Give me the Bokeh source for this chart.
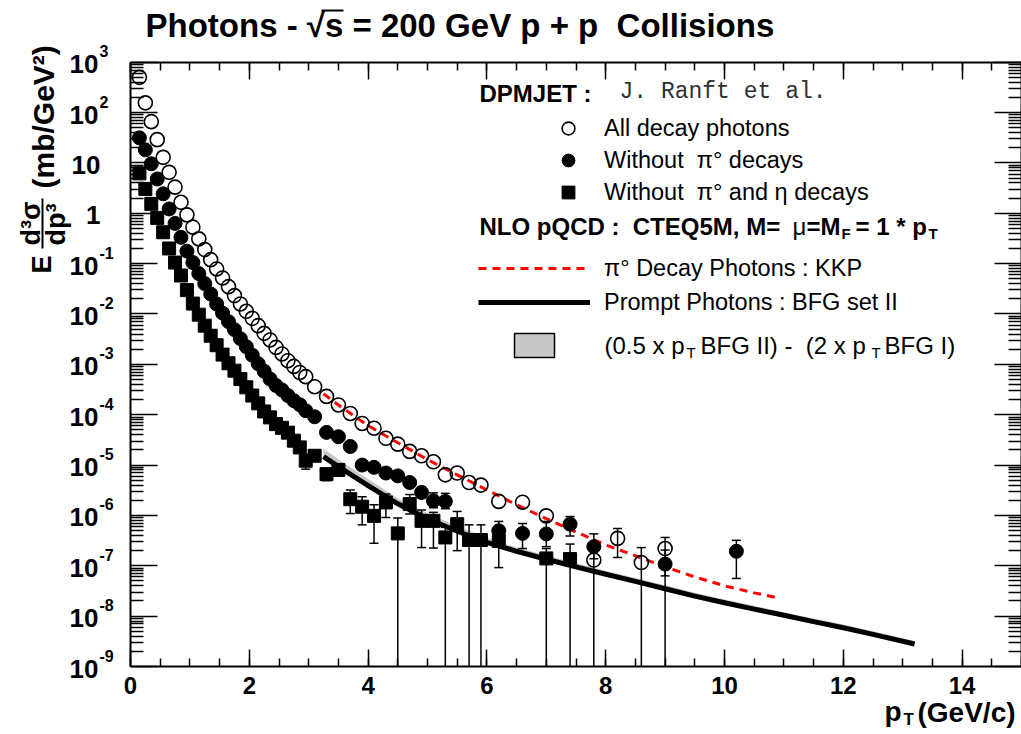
import math
from bokeh.plotting import figure
from bokeh.models import (LinearAxis, LogAxis, FixedTicker, Label, Legend,
                          LegendItem, Arrow, CustomJSTickFormatter, BoxAnnotation)
from bokeh.embed import file_html
from bokeh.resources import INLINE

FONT = "Liberation Sans"
NB = "\u00a0"

# ---------------- data ----------------
pt_all = [0.15, 0.25, 0.35, 0.45, 0.55, 0.65, 0.75, 0.85, 0.95, 1.05, 1.15, 1.25, 1.35, 1.45,
          1.55, 1.65, 1.75, 1.85, 1.95, 2.05, 2.15, 2.25, 2.35, 2.45, 2.55, 2.65, 2.75, 2.85,
          2.95, 3.1, 3.3, 3.5, 3.7, 3.9, 4.1, 4.3, 4.5, 4.7, 4.9, 5.1, 5.3, 5.5, 5.7, 5.9,
          6.2, 6.6, 7.0, 7.8, 8.2, 8.6, 9.0]
all_decay = [500, 156, 66, 29, 12.9, 6.5, 3.3, 1.65, 0.93, 0.53, 0.31, 0.19, 0.12, 0.0785,
             0.052, 0.0349, 0.0232, 0.0158, 0.0113, 0.0082, 0.00587, 0.00413, 0.00305, 0.00217,
             0.00161, 0.00118, 9.1e-4, 6.9e-4, 5.7e-4, 3.6e-4, 2.31e-4, 1.56e-4, 1.06e-4,
             6.7e-5, 5.4e-5, 3.4e-5, 2.6e-5, 1.87e-5, 1.53e-5, 1.16e-5, 6.4e-6, 6.95e-6,
             4.5e-6, 4.0e-6, 1.9e-6, 1.83e-6, 9.8e-7, 1.3e-7, 3.5e-7, 1.16e-7, 2.2e-7]

pt_nopi0 = [0.15, 0.25, 0.35, 0.45, 0.55, 0.65, 0.75, 0.85, 0.95, 1.05, 1.15, 1.25, 1.35, 1.45,
            1.55, 1.65, 1.75, 1.85, 1.95, 2.05, 2.15, 2.25, 2.35, 2.45, 2.55, 2.65, 2.75, 2.85,
            2.95, 3.1, 3.3, 3.5, 3.7, 3.9, 4.1, 4.3, 4.5, 4.7, 4.9, 5.1, 5.3,
            6.2, 6.6, 7.0, 7.4, 7.8, 9.0, 10.2]
no_pi0 = [31.5, 18.2, 9.6, 4.8, 2.43, 1.22, 0.63, 0.333, 0.177, 0.105, 0.0634, 0.0401, 0.025,
          0.0158, 0.0104, 0.00705, 0.00489, 0.00324, 0.00224, 0.00152, 0.00103, 7.3e-4, 5.1e-4,
          3.8e-4, 3.1e-4, 2.4e-4, 1.9e-4, 1.58e-4, 1.2e-4, 9.1e-5, 4.45e-5, 3.66e-5, 2.34e-5,
          1.0e-5, 9.0e-6, 6.95e-6, 6.1e-6, 4.5e-6, 2.86e-6, 1.95e-6, 1.9e-6,
          4.95e-7, 4.4e-7, 4.3e-7, 6.7e-7, 2.4e-7, 1.08e-7, 1.94e-7]

pt_nopi0eta = [0.15, 0.25, 0.35, 0.45, 0.55, 0.65, 0.75, 0.85, 0.95, 1.05, 1.15, 1.25, 1.35,
               1.45, 1.55, 1.65, 1.75, 1.85, 1.95, 2.05, 2.15, 2.25, 2.35, 2.45, 2.55, 2.65,
               2.75, 2.85, 2.95, 3.1, 3.3, 3.5, 3.7, 3.9, 4.1, 4.3, 4.5, 4.7, 4.9, 5.1, 5.3,
               5.5, 5.7, 5.9, 6.2, 7.0, 7.4]
no_pi0_eta = [6.2, 3.05, 1.54, 0.81, 0.42, 0.2, 0.105, 0.058, 0.0298, 0.0161, 0.0097, 0.00587,
              0.0037, 0.0024, 0.00156, 0.00105, 7.5e-4, 5.1e-4, 3.5e-4, 2.4e-4, 1.68e-4,
              1.16e-4, 8.85e-5, 6.5e-5, 5.5e-5, 4.4e-5, 3.05e-5, 2.24e-5, 1.22e-5, 1.53e-5,
              6.6e-6, 8.0e-6, 2.1e-6, 1.49e-6, 9.8e-7, 1.81e-6, 4.4e-7, 1.68e-6, 7.8e-7,
              7.8e-7, 3.65e-7, 6.7e-7, 3.25e-7, 3.25e-7, 3.1e-7, 1.4e-7, 1.36e-7]

# error bars (lower value 0 = bar reaches zero, i.e. the bottom of the axis)
err_all_pt = [7.8, 8.2, 8.6, 9.0]
err_all_hi = [2.2e-7, 5.5e-7, 2.3e-7, 3.65e-7]
err_all_lo = [0, 1.46e-7, 0, 0]

err_nopi0_pt = [4.9, 5.1, 5.3, 6.2, 6.6, 7.0, 7.4, 7.8, 9.0, 10.2]
err_nopi0_hi = [3.7e-6, 2.8e-6, 2.75e-6, 7.6e-7, 6.9e-7, 7.6e-7, 9.5e-7, 4.3e-7, 2.05e-7, 3.2e-7]
err_nopi0_lo = [2.25e-6, 1.42e-6, 1.36e-6, 2.5e-7, 2.2e-7, 2.4e-7, 3.9e-7, 1.38e-7, 6.3e-8, 5.6e-8]

err_eta_pt = [2.95, 3.3, 3.7, 3.9, 4.1, 4.3, 4.5, 4.7, 4.9, 5.1, 5.3, 5.5, 5.7, 5.9, 6.2, 7.0, 7.4]
err_eta_hi = [1.5e-5, 8.0e-6, 3.2e-6, 2.35e-6, 1.63e-6, 2.66e-6, 8.9e-7, 2.6e-6, 1.28e-6,
              1.15e-6, 5.8e-7, 1.2e-6, 6.5e-7, 6.5e-7, 5.4e-7, 2.2e-7, 2.7e-7]
err_eta_lo = [8.3e-6, 4.9e-6, 1.09e-6, 6.5e-7, 2.8e-7, 9.1e-7, 0, 1.07e-6, 2.3e-7, 2.25e-7,
              0, 2.0e-7, 0, 0, 9.2e-8, 0, 0]

# NLO pQCD curves
kkp_pt = [3.25, 3.5, 4.0, 4.5, 5.0, 5.5, 6.0, 6.5, 7.0, 7.5, 8.0, 8.5, 9.0, 9.5, 10.0, 10.5, 10.9]
kkp = [2.6e-4, 1.56e-4, 6.05e-5, 2.78e-5, 1.28e-5, 6.4e-6, 3.2e-6, 1.63e-6, 8.6e-7, 4.7e-7,
       2.6e-7, 1.58e-7, 9.5e-8, 6.0e-8, 4.0e-8, 2.9e-8, 2.3e-8]
bfg_pt = [3.25, 3.5, 4.0, 4.5, 5.0, 5.5, 6.0, 6.5, 7.0, 7.5, 8.0, 8.5, 9.0, 9.5, 10.0, 10.5,
          11.0, 11.5, 12.0, 12.5, 13.2]
bfg2 = [1.47e-5, 9.3e-6, 3.9e-6, 1.7e-6, 8.6e-7, 4.85e-7, 2.93e-7, 1.94e-7, 1.35e-7, 9.5e-8,
        6.8e-8, 4.9e-8, 3.5e-8, 2.5e-8, 1.84e-8, 1.38e-8, 1.04e-8, 7.8e-9, 5.9e-9, 4.35e-9,
        2.8e-9]
band_hi = [2.1e-5, 1.3e-5, 5.3e-6, 2.2e-6, 1.1e-6, 6.1e-7, 3.6e-7, 2.3e-7, 1.62e-7, 1.12e-7,
           8.0e-8, 5.75e-8, 4.1e-8, 2.93e-8, 2.14e-8, 1.6e-8, 1.2e-8, 9.0e-9, 6.8e-9, 5.0e-9,
           3.2e-9]
band_lo = [1.32e-5, 8.4e-6, 3.5e-6, 1.53e-6, 7.7e-7, 4.4e-7, 2.64e-7, 1.75e-7, 1.22e-7,
           8.6e-8, 6.1e-8, 4.4e-8, 3.15e-8, 2.25e-8, 1.66e-8, 1.24e-8, 9.4e-9, 7.0e-9, 5.3e-9,
           3.9e-9, 2.5e-9]

x_ticks = [0, 2, 4, 6, 8, 10, 12, 14]
y_exponents = list(range(-9, 4))
X_MIN, X_MAX = 0.0, 15.0
Y_MIN, Y_MAX = 1e-9, 1e3

# ---------------- figure ----------------
# The frame covers the whole canvas; the axes sit at fixed locations inside it
# so that titles and tick texts can be drawn around them.
W, H = 1021, 732
L, T, B = 130.0, 61.7, 666.0          # axis box in canvas pixels
px_x = (W - L) / (X_MAX - X_MIN)
px_dec = (B - T) / 12.0
x_lo = X_MIN - L / px_x
y_lo = 10 ** (math.log10(Y_MIN) - (H - B) / px_dec)
y_hi = 10 ** (math.log10(Y_MAX) + T / px_dec)

p = figure(width=W, height=H, x_range=(x_lo, X_MAX), y_range=(y_lo, y_hi),
           y_axis_type="log", x_axis_location=None, y_axis_location=None,
           output_backend="svg", toolbar_location=None, title=None,
           min_border=0, min_border_left=0, min_border_right=0, min_border_top=0,
           min_border_bottom=0)
p.outline_line_color = None
p.grid.visible = False

x_tick = FixedTicker(ticks=x_ticks, minor_ticks=[0.5 * i for i in range(31)])
y_tick = FixedTicker(ticks=[10.0 ** e for e in y_exponents],
                     minor_ticks=[m * 10.0 ** e for e in y_exponents[:-1] for m in range(2, 10)])


def style(ax, maj, mnr, ticker, hide=True):
    ax.ticker = ticker
    ax.axis_line_width = 2
    ax.axis_line_color = "black"
    ax.major_tick_in = maj
    ax.major_tick_out = 0
    ax.minor_tick_in = mnr
    ax.minor_tick_out = 0
    ax.major_tick_line_width = 1.5
    ax.minor_tick_line_width = 1.5
    ax.major_tick_line_color = "black"
    ax.minor_tick_line_color = "black"
    if hide:
        ax.formatter = CustomJSTickFormatter(code="return '';")
        ax.major_label_text_color = None
        ax.major_label_standoff = 0


xb = LinearAxis(fixed_location=Y_MIN, bounds=(X_MIN, X_MAX))
style(xb, 17, 8, x_tick, hide=False)
xb.major_label_text_font = FONT
xb.major_label_text_font_style = "bold"
xb.major_label_text_font_size = "24px"
xb.major_label_text_color = "black"
xb.major_label_standoff = 10
p.add_layout(xb, "below")

xt = LinearAxis(fixed_location=Y_MAX, bounds=(X_MIN, X_MAX))
style(xt, 17, 8, x_tick)
p.add_layout(xt, "above")

yl = LogAxis(fixed_location=X_MIN, bounds=(Y_MIN, Y_MAX))
style(yl, 27, 13, y_tick)
p.add_layout(yl, "left")

yr = LogAxis(fixed_location=X_MAX, bounds=(Y_MIN, Y_MAX))
style(yr, 27, 13, y_tick)
p.add_layout(yr, "right")

# ---------------- curves ----------------
r_band = p.varea(x=bfg_pt, y1=band_lo, y2=band_hi, fill_color="#c8c8c8")
r_bfg = p.line(bfg_pt, bfg2, line_color="black", line_width=5, line_join="round")
r_kkp = p.line(kkp_pt, kkp, line_color="#ff0000", line_width=3, line_dash="8 6")


# ---------------- error bars ----------------
def errbars(xs, hi, lo):
    lo_draw = [l if l > 0 else Y_MIN for l in lo]
    p.segment(x0=xs, y0=lo_draw, x1=xs, y1=hi, line_color="black", line_width=1.5)
    p.scatter(x=xs, y=hi, marker="dash", size=9, line_color="black", line_width=1.5)
    cx = [x for x, l in zip(xs, lo) if l > 0]
    cy = [l for l in lo if l > 0]
    p.scatter(x=cx, y=cy, marker="dash", size=9, line_color="black", line_width=1.5)


errbars(err_eta_pt, err_eta_hi, err_eta_lo)
errbars(err_nopi0_pt, err_nopi0_hi, err_nopi0_lo)
errbars(err_all_pt, err_all_hi, err_all_lo)

# ---------------- markers ----------------
r_sq = p.scatter(pt_nopi0eta, no_pi0_eta, marker="square", size=13, fill_color="black",
                 line_color="black")
r_fc = p.scatter(pt_nopi0, no_pi0, marker="circle", size=14, fill_color="black",
                 line_color="black")
r_oc = p.scatter(pt_all, all_decay, marker="circle", size=14, fill_color=None,
                 line_color="black", line_width=1.6)


# ---------------- texts (canvas pixel positions, vertically centred) ----------------
def lab(text, X, Y, size, bold=True, font=FONT, align="left", angle=0.0, color="black"):
    p.add_layout(Label(x=X, y=H - Y, x_units="screen", y_units="screen", text=text,
                       text_font=font, text_font_size=f"{size}px",
                       text_font_style="bold" if bold else "normal", text_align=align,
                       text_baseline="middle", angle=angle, text_color=color))


def bar(X0, Y0, X1, Y1, w=2.0):
    p.add_layout(Arrow(end=None, x_start=X0, y_start=H - Y0, x_end=X1, y_end=H - Y1,
                       start_units="screen", end_units="screen",
                       line_width=w, line_color="black"))


# title
lab("Photons - √s = 200 GeV p + p" + NB + NB + "Collisions", 145, 25, 33)
bar(321, 10, 343, 10, 2.0)

# y tick labels
for e in y_exponents:
    Yt = T + (3 - e) * px_dec
    if e == 1:
        lab("10", 100, Yt + 2, 26, align="right")
    elif e == 0:
        lab("1", 100, Yt + 2, 26, align="right")
    else:
        lab("10", 98, Yt + 2, 26, align="right")
        lab(str(e), 99, Yt - 11, 16)

# y title (rotated, reading upwards)
up = math.pi / 2
lab("E", 41, 273, 27, angle=up)
lab("d³σ", 30, 245, 27, angle=up)
bar(42, 248, 42, 198)
lab("dp³", 55, 245, 27, angle=up)
lab("(mb/GeV²)", 43, 188, 30, angle=up)

# x title
lab("p", 884, 711, 28)
lab("T", 903, 719, 17)
lab("(GeV/c)", 917, 712, 28)

# legend headers
lab("DPMJET :", 479, 93, 24)
lab("J. Ranft et al.", 619, 91, 23, bold=False, font="Liberation Mono", color="#303030")
lab("NLO pQCD :" + NB + NB + "CTEQ5M, M=", 479, 226, 24)
lab("μ", 792, 226, 24, bold=False)
lab("=M", 806, 226, 24)
lab("F", 841, 233, 15)
lab("= 1 * p", 855, 226, 24)
lab("T", 928, 233, 15)

# band legend key and text
p.add_layout(BoxAnnotation(left=514, right=554, top=H - 333, bottom=H - 357,
                           left_units="screen", right_units="screen", top_units="screen",
                           bottom_units="screen", fill_color="#c8c8c8", fill_alpha=1,
                           line_color="black", line_width=1.5, line_alpha=1))
lab("(0.5 x p", 604, 345, 24, bold=False)
lab("T", 686, 352, 15, bold=False)
lab("BFG II) -" + NB + NB + "(2 x p", 700, 345, 24, bold=False)
lab("T", 871, 352, 15, bold=False)
lab("BFG I)", 884, 345, 24, bold=False)

# ---------------- legends ----------------
common = dict(orientation="vertical", spacing=0, padding=0, margin=0,
              label_text_font=FONT, label_text_font_size="23.5px", label_text_color="black",
              border_line_color=None, background_fill_alpha=0)
leg1 = Legend(items=[LegendItem(label="All decay photons", renderers=[r_oc]),
                     LegendItem(label="Without  π° decays", renderers=[r_fc]),
                     LegendItem(label="Without  π° and η decays", renderers=[r_sq])],
              location=(552, H - 208), glyph_width=32, glyph_height=32, label_standoff=20,
              **common)
leg2 = Legend(items=[LegendItem(label="π° Decay Photons : KKP", renderers=[r_kkp]),
                     LegendItem(label="Prompt Photons : BFG set II", renderers=[r_bfg])],
              location=(478, H - 319), glyph_width=112, glyph_height=34, label_standoff=14,
              **common)
p.add_layout(leg1)
p.add_layout(leg2)

open("out.html", "w").write(file_html(p, INLINE))
